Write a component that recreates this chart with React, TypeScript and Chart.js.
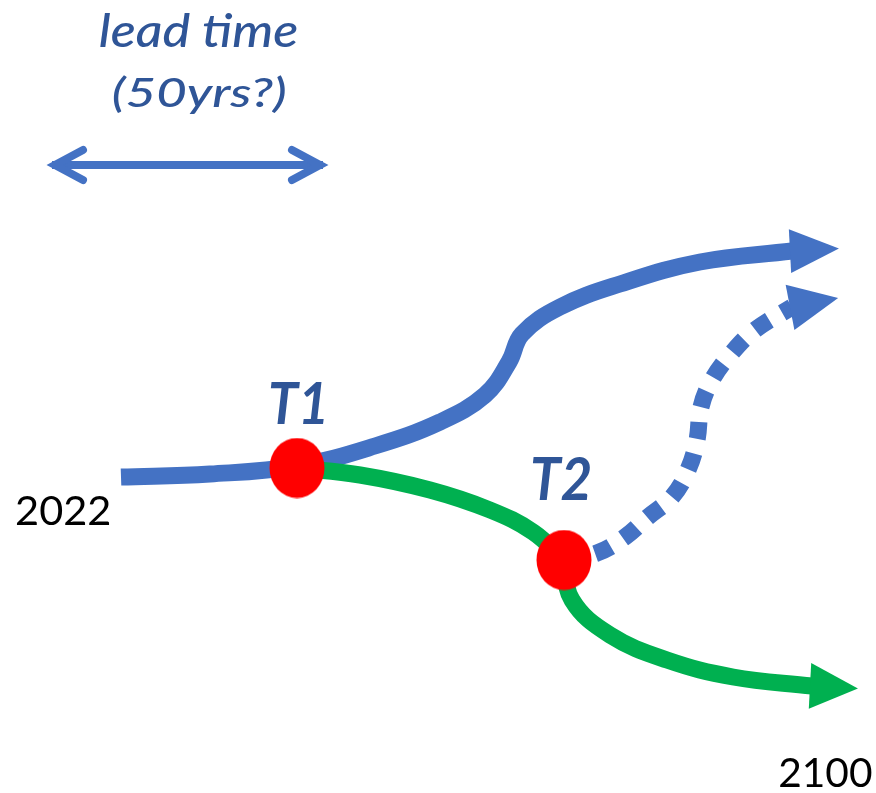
import React, { useEffect, useRef } from "react";
import { Chart, registerables } from "chart.js";

Chart.register(...registerables);

// ---- Data (diagram units: x to the right, y downward) ----
const mainPathX = [121, 210, 297, 375, 440, 485, 509, 522, 560, 620, 700, 792];
const mainPathY = [477, 474, 466, 446, 422, 395, 362, 334, 307, 284, 262, 251];

const greenPathX = [297, 360, 430, 490, 533, 564];
const greenPathY = [468, 475, 490, 510, 532, 560];

const greenTailX = [564, 572, 610, 667, 733, 812];
const greenTailY = [560, 600, 635, 660, 677, 686];

const dottedPathX = [564, 597, 625, 648, 672, 688, 697, 701, 712, 730, 755, 792];
const dottedPathY = [560, 553, 537, 517, 497, 470, 440, 407, 380, 355, 330, 307];

const leadTimeX = [52, 323];
const leadTimeY = [165, 165];

const tippingNames = ["T1", "T2"];
const tippingX = [297, 564];
const tippingY = [468, 560];

const labelTexts = ["lead time", "(50yrs?)", "T1", "T2", "2022", "2100"];

// ---- Layout / style (not data) ----
const W = 876;
const H = 793;
const BLUE = "#4472C4";
const GREEN = "#00B050";
const RED = "#FF0000";
const DARKBLUE = "#2F5597";

// label boxes: left, right, top (of reference glyph), baseline
const labelBoxes = [
  [100, 297, 12, 47],
  [113, 285, 75, 107],
  [270, 324, 383, 424],
  [532, 590, 458, 500],
  [17, 110, 495, 525],
  [780, 872, 758, 787],
];
const labelHeightRef = ["l", "(", "T", "T", "2", "2"];
const labelFonts = [
  "italic 500 44px Lato",
  "italic 500 44px Lato",
  "italic 700 56px Lato",
  "italic 700 56px Lato",
  "400 44px Lato",
  "400 44px Lato",
];
const labelColors = [DARKBLUE, DARKBLUE, DARKBLUE, DARKBLUE, "#000000", "#000000"];

// arrowheads: dataset index, length, half width, angle (deg)
const arrowHeads = [
  { ds: 1, len: 47, half: 22, angle: -3, color: BLUE },
  { ds: 3, len: 46, half: 23, angle: 3, color: GREEN },
  { ds: 4, len: 47, half: 23, angle: -11, color: BLUE },
];
const LEAD_DS = 5;

function pts(xs: number[], ys: number[]) {
  return xs.map((x, i) => ({ x, y: ys[i] }));
}

const arrowPlugin = {
  id: "arrowsAndLabels",
  afterDatasetsDraw(chart: any) {
    const ctx = chart.ctx as CanvasRenderingContext2D;
    const xs = chart.scales.x;
    const ys = chart.scales.y;
    for (const a of arrowHeads) {
      const data = chart.data.datasets[a.ds].data as any[];
      const last = data[data.length - 1];
      const px = xs.getPixelForValue(last.x);
      const py = ys.getPixelForValue(last.y);
      const ang = (a.angle * Math.PI) / 180;
      ctx.save();
      ctx.translate(px, py);
      ctx.rotate(ang);
      ctx.fillStyle = a.color;
      ctx.beginPath();
      ctx.moveTo(-2, -a.half);
      ctx.lineTo(a.len, 0);
      ctx.lineTo(-2, a.half);
      ctx.closePath();
      ctx.fill();
      ctx.restore();
    }
    const lt = chart.data.datasets[LEAD_DS].data as any[];
    const ends = [
      { p: lt[0], dir: -1 },
      { p: lt[lt.length - 1], dir: 1 },
    ];
    ctx.save();
    ctx.strokeStyle = BLUE;
    ctx.lineWidth = 8;
    ctx.lineCap = "round";
    ctx.lineJoin = "miter";
    for (const e of ends) {
      const px = xs.getPixelForValue(e.p.x);
      const py = ys.getPixelForValue(e.p.y);
      const tipX = px - e.dir * 3;
      ctx.beginPath();
      ctx.moveTo(tipX - e.dir * 28, py - 15);
      ctx.lineTo(tipX, py);
      ctx.lineTo(tipX - e.dir * 28, py + 15);
      ctx.stroke();
    }
    ctx.restore();
  },
  afterDraw(chart: any) {
    const ctx = chart.ctx as CanvasRenderingContext2D;
    const xs = chart.scales.x;
    const ys = chart.scales.y;
    labelTexts.forEach((t, i) => {
      const [l, r, top, base] = labelBoxes[i];
      const left = xs.getPixelForValue(l);
      const right = xs.getPixelForValue(r);
      const topPx = ys.getPixelForValue(top);
      const basePx = ys.getPixelForValue(base);
      ctx.save();
      ctx.font = labelFonts[i];
      ctx.textAlign = "left";
      ctx.textBaseline = "alphabetic";
      const m = ctx.measureText(t);
      const mRef = ctx.measureText(labelHeightRef[i]);
      const mw = m.actualBoundingBoxLeft + m.actualBoundingBoxRight;
      const ma = mRef.actualBoundingBoxAscent;
      const sx = (right - left) / mw;
      const sy = (basePx - topPx) / ma;
      ctx.translate(left, basePx);
      ctx.scale(sx, sy);
      ctx.fillStyle = labelColors[i];
      ctx.fillText(t, m.actualBoundingBoxLeft, 0);
      ctx.restore();
    });
  },
};

function makeEllipse(): HTMLCanvasElement {
  const c = document.createElement("canvas");
  c.width = 56;
  c.height = 61;
  const g = c.getContext("2d")!;
  g.fillStyle = RED;
  g.beginPath();
  g.ellipse(28, 30.5, 27.5, 30, 0, 0, Math.PI * 2);
  g.fill();
  return c;
}

export default function App() {
  const ref = useRef<HTMLCanvasElement | null>(null);
  useEffect(() => {
    if (!ref.current) return;
    const ellipse = makeEllipse();
    const lineCommon = {
      showLine: true,
      pointRadius: 0,
      pointHoverRadius: 0,
      borderWidth: 17,
      tension: 0.4,
      clip: false as any,
      borderCapStyle: "butt" as const,
      borderJoinStyle: "round" as const,
    };
    const chart = new Chart(ref.current, {
      type: "scatter",
      data: {
        datasets: [
          {
            label: "Tipping points",
            data: pts(tippingX, tippingY),
            pointStyle: ellipse as any,
            pointRadius: 28,
            showLine: false,
            order: 0,
            clip: false as any,
          },
          {
            label: "Current path",
            data: pts(mainPathX, mainPathY),
            borderColor: BLUE,
            ...lineCommon,
            order: 3,
          },
          {
            label: "Adaptation path",
            data: pts(greenPathX, greenPathY),
            borderColor: GREEN,
            ...lineCommon,
            order: 2,
          },
          {
            label: "Adaptation path (after T2)",
            data: pts(greenTailX, greenTailY),
            borderColor: GREEN,
            ...lineCommon,
            order: 1,
          },
          {
            label: "Alternative path",
            data: pts(dottedPathX, dottedPathY),
            borderColor: BLUE,
            ...lineCommon,
            borderDash: [17, 15],
            order: 4,
          },
          {
            label: "Lead time",
            data: pts(leadTimeX, leadTimeY),
            borderColor: BLUE,
            ...lineCommon,
            borderWidth: 8,
            tension: 0,
            order: 5,
          },
        ],
      },
      options: {
        animation: false,
        responsive: false,
        events: [],
        layout: { padding: 0, autoPadding: false },
        plugins: {
          legend: { display: false },
          tooltip: { enabled: false },
          title: { display: false },
        },
        scales: {
          x: { type: "linear", min: 0, max: W, display: false },
          y: { type: "linear", min: 0, max: H, reverse: true, display: false },
        },
      },
      plugins: [arrowPlugin],
    });
    return () => chart.destroy();
  }, []);
  return (
    <div style={{ position: "fixed", left: 0, top: 0, width: W, height: H, background: "#fff" }}>
      <canvas ref={ref} width={W} height={H} style={{ display: "block", width: W, height: H }} />
    </div>
  );
}
